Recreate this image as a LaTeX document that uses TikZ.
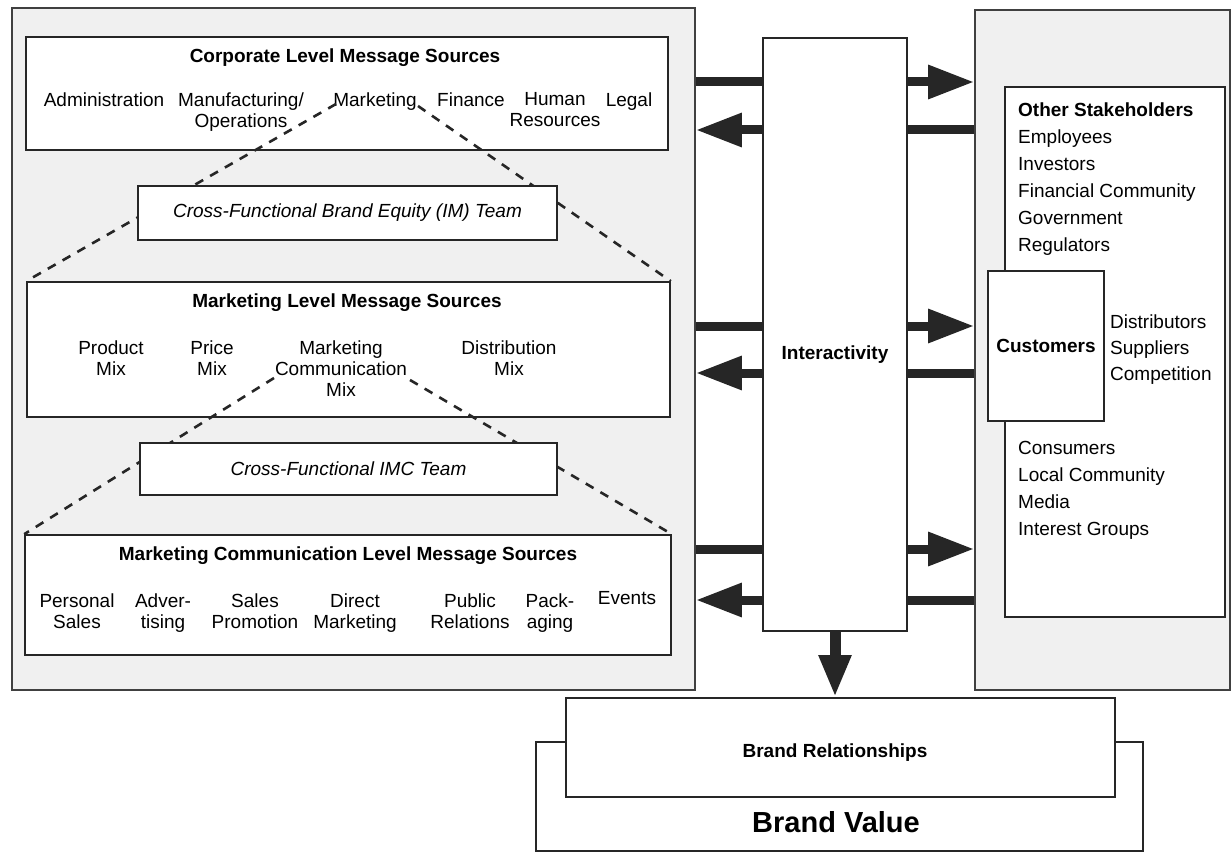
\documentclass[tikz,border=0pt]{standalone}
\usepackage{fontspec}
\setmainfont{Liberation Sans}
\usetikzlibrary{arrows.meta,calc}
\begin{document}
\begin{tikzpicture}[x=1pt,y=-1pt,
  box/.style={draw=black!85, line width=1.6pt, fill=white, inner sep=0pt},
  outerbox/.style={draw=black!75, line width=1.6pt, fill=black!6, inner sep=0pt},
  itm/.style={font=\fontsize{19}{21}\selectfont, align=center, inner sep=0pt, anchor=north},
  ttl/.style={font=\bfseries\fontsize{19}{21}\selectfont, inner sep=0pt, anchor=base},
  lst/.style={font=\fontsize{19}{21}\selectfont, inner sep=0pt, anchor=base west},
  team/.style={font=\itshape\fontsize{19}{21}\selectfont, inner sep=0pt},
  flow/.style={line width=9pt, draw=black!85},
  head/.style={flow, -{Triangle[length=46pt,width=32pt]}},
  dashline/.style={draw=black!85, line width=2.6pt, dash pattern=on 9pt off 8pt}
]
\useasboundingbox (0,0) rectangle (1232,853);

% outer panels
\node[outerbox, minimum width=683pt, minimum height=682pt] (leftbox) at (353.5,349) {};
\node[outerbox, minimum width=255pt, minimum height=680pt] (rightbox) at (1102.5,350) {};

% corporate level
\node[box, minimum width=642pt, minimum height=113pt] (corp) at (347,93.5) {};
\node[ttl] (corpT) at (345,63) {Corporate Level Message Sources};
\node[itm] (adm) at (104,92.5) {Administration};
\node[itm] (man) at (241,92.5) {Manufacturing/\\Operations};
\node[itm] (mar) at (375,92.5) {Marketing};
\node[itm] (fin) at (471,92.5) {Finance};
\node[itm] (hum) at (555,92.5) {Human\\Resources};
\node[itm] (leg) at (629,92.5) {Legal};

% marketing level box (needed for dashed line ends)
\node[box, minimum width=643pt, minimum height=135pt] (mkt) at (348.5,349.5) {};

% dashed funnel 1
\coordinate (d1a) at (336,104);
\coordinate (d1b) at (418,106);
\draw[dashline] (d1a) -- (mkt.north west);
\draw[dashline] (d1b) -- (mkt.north east);

\node[box, minimum width=419pt, minimum height=54pt] (imteam) at (347.5,213) {};
\node[team] (imT) at (imteam.center) {Cross-Functional Brand Equity (IM) Team};

% redraw marketing box on top of dashed ends
\node[box, minimum width=643pt, minimum height=135pt] (mkt2) at (348.5,349.5) {};
\node[ttl] (mktT) at (347,308) {Marketing Level Message Sources};
\node[itm] (prod) at (111,340.5) {Product\\Mix};
\node[itm] (pri) at (212,340.5) {Price\\Mix};
\node[itm] (mcm) at (341,340.5) {Marketing\\Communication\\Mix};
\node[itm] (dis) at (509,340.5) {Distribution\\Mix};

% marketing communication level box
\node[box, minimum width=646pt, minimum height=120pt] (mcs) at (348,595) {};

% dashed funnel 2
\coordinate (d2a) at (274,378);
\coordinate (d2b) at (410,380);
\draw[dashline] (d2a) -- (mcs.north west);
\draw[dashline] (d2b) -- (mcs.north east);

\node[box, minimum width=417pt, minimum height=52pt] (imcteam) at (348.5,469) {};
\node[team] (imcT) at (imcteam.center) {Cross-Functional IMC Team};

\node[box, minimum width=646pt, minimum height=120pt] (mcs2) at (348,595) {};
\node[ttl] (mcsT) at (348,560) {Marketing Communication Level Message Sources};
\node[itm] (ps) at (77,593.5) {Personal\\Sales};
\node[itm] (adv) at (163,593.5) {Adver-\\tising};
\node[itm] (sp) at (255,593.5) {Sales\\Promotion};
\node[itm] (dm) at (355,593.5) {Direct\\Marketing};
\node[itm] (pr) at (470,593.5) {Public\\Relations};
\node[itm] (pk) at (550,593.5) {Pack-\\aging};
\node[itm] (ev) at (627,591.5) {Events};

% interactivity
\node[box, minimum width=144pt, minimum height=593pt] (inter) at (835,334.5) {};
\node[ttl, anchor=center] (interT) at (835,355) {Interactivity};

% right stakeholders
\node[box, minimum width=220pt, minimum height=530pt] (oth) at (1115,352) {};
\foreach \t [count=\i] in {Employees,Investors,Financial Community,Government,Regulators}
  \node[lst] (o\i) at (1018,{144+27*(\i-1)}) {\t};
\node[lst, font=\bfseries\fontsize{19}{21}\selectfont] (othT) at (1018,117) {Other Stakeholders};
\node[box, minimum width=116pt, minimum height=150pt] (cust) at (1046,346) {};
\node[ttl, anchor=center] (custT) at (cust.center) {Customers};
\foreach \t [count=\i] in {Distributors,Suppliers,Competition}
  \node[lst] (c\i) at (1110,{328+26*(\i-1)}) {\t};
\foreach \t [count=\i] in {Consumers,Local Community,Media,Interest Groups}
  \node[lst] (k\i) at (1018,{454+27*(\i-1)}) {\t};

% brand value / relationships
\node[box, minimum width=607pt, minimum height=109pt] (bv) at (839.5,796.5) {};
\node[box, minimum width=549pt, minimum height=99pt] (brel) at (840.5,747.5) {};
\node[ttl, anchor=center] (brelT) at (835,753) {Brand Relationships};
\node[inner sep=0pt, font=\bfseries\fontsize{29}{32}\selectfont] (bvT) at (836,822) {Brand Value};

% flows
\coordinate (r1) at (0,82);
\coordinate (r2) at (0,130);
\coordinate (r3) at (0,326);
\coordinate (r4) at (0,373);
\coordinate (r5) at (0,549);
\coordinate (r6) at (0,600);
\foreach \a/\b in {r1/r2,r3/r4,r5/r6}{
  \draw[flow] (leftbox.east |- \a) -- (inter.west |- \a);
  \draw[head] (inter.east |- \a) -- (rightbox.west |- \a);
  \draw[flow] (rightbox.west |- \b) -- (inter.east |- \b);
  \draw[head] (inter.west |- \b) -- (leftbox.east |- \b);
}
\draw[flow, line width=11pt, -{Triangle[length=42pt,width=30pt]}] (inter.south) -- (brel.north -| inter.south);
\end{tikzpicture}
\end{document}
